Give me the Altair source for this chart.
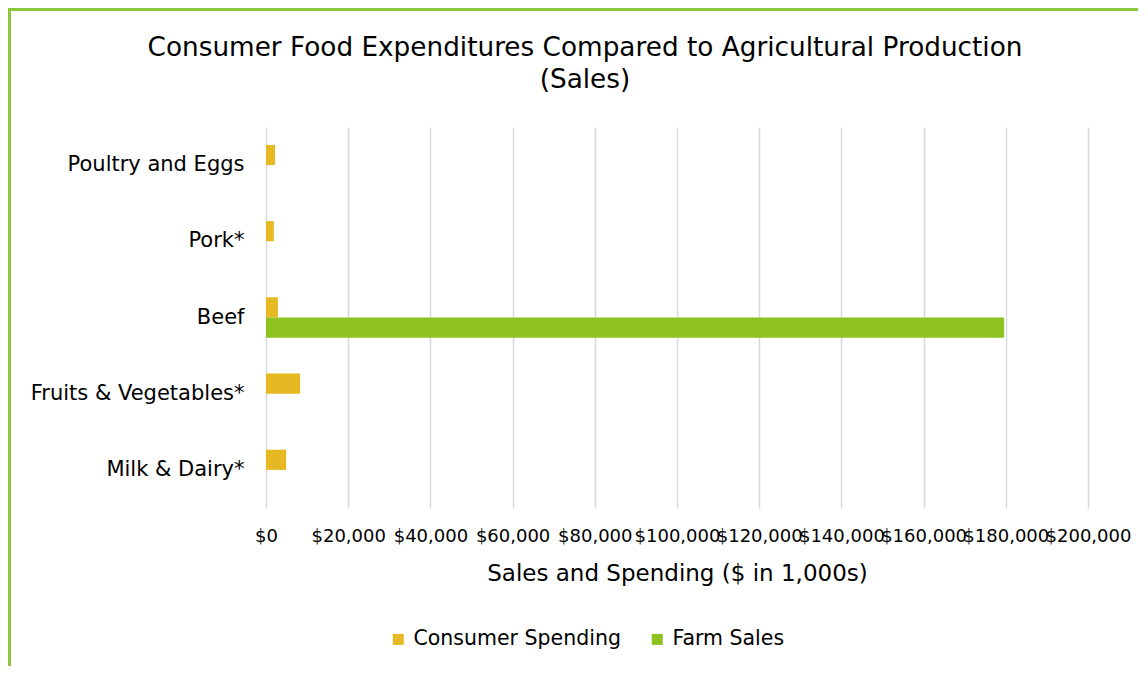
import altair as alt
import pandas as pd

categories = ["Poultry and Eggs", "Pork*", "Beef", "Fruits & Vegetables*", "Milk & Dairy*"]
series = ["Consumer Spending", "Farm Sales"]
consumer_spending = [2200, 1900, 2900, 8300, 4900]
farm_sales = [0, 0, 179600, 0, 0]
x_ticks = [0, 20000, 40000, 60000, 80000, 100000, 120000, 140000, 160000, 180000, 200000]
colors = ["#E6B822", "#8DC21F"]

rows = []
for c, cs, fs in zip(categories, consumer_spending, farm_sales):
    rows.append({"Category": c, "Series": series[0], "Value": cs})
    rows.append({"Category": c, "Series": series[1], "Value": fs})
df = pd.DataFrame(rows)

FONT = "DejaVu Sans"

bars = alt.Chart(df).mark_bar().encode(
    y=alt.Y("Category:N", sort=categories,
            scale=alt.Scale(paddingInner=0.47, paddingOuter=0.235),
            axis=alt.Axis(title=None, domain=False, ticks=False, labelFontSize=21,
                          labelColor="#000000", labelPadding=22, labelFont=FONT, labelLimit=0)),
    yOffset=alt.YOffset("Series:N", sort=series, scale=alt.Scale(paddingInner=0)),
    x=alt.X("Value:Q", scale=alt.Scale(domain=[0, 200000], nice=False),
            axis=alt.Axis(values=x_ticks, format="$,.0f", title="Sales and Spending ($ in 1,000s)",
                          titleFontSize=23, titleFontWeight="normal", titleColor="#000000",
                          titlePadding=17, labelFontSize=18, labelColor="#000000",
                          labelPadding=19, domain=False, ticks=False, gridColor="#D9D9D9",
                          gridWidth=1.5, labelFont=FONT, titleFont=FONT, labelFlush=False,
                          labelOverlap=False)),
    color=alt.Color("Series:N", sort=series, scale=alt.Scale(domain=series, range=colors),
                    legend=alt.Legend(title=None, orient="none", direction="horizontal",
                                      legendX=122, legendY=502, symbolType="square",
                                      symbolSize=121, symbolStrokeWidth=0, labelFontSize=20.5,
                                      labelColor="#000000", labelFont=FONT, columnPadding=26,
                                      labelOffset=5, labelLimit=0)),
)

border_left = alt.Chart(df).mark_rule(color="#8DC63F", strokeWidth=3).encode(
    x=alt.value(-257), y=alt.value(-118.5), y2=alt.value(700)
)
border_top = alt.Chart(df).mark_rule(color="#8DC63F", strokeWidth=3).encode(
    x=alt.value(-258.5), x2=alt.value(1200), y=alt.value(-118)
)

chart = alt.layer(bars, border_left, border_top).properties(
    width=822, height=381,
    autosize=alt.AutoSizeParams(type="none"),
    padding={"left": 258, "top": 119, "right": 50, "bottom": 158},
    title=alt.TitleParams(
        text=["Consumer Food Expenditures Compared to Agricultural Production", "(Sales)"],
        fontSize=26.3, fontWeight="normal", color="#000000", font=FONT,
        anchor="middle", dx=-92, offset=0, dy=86, lineHeight=32,
    ),
).configure_view(stroke=None)

chart.save("out.html", embed_options={"renderer": "svg", "actions": False})
